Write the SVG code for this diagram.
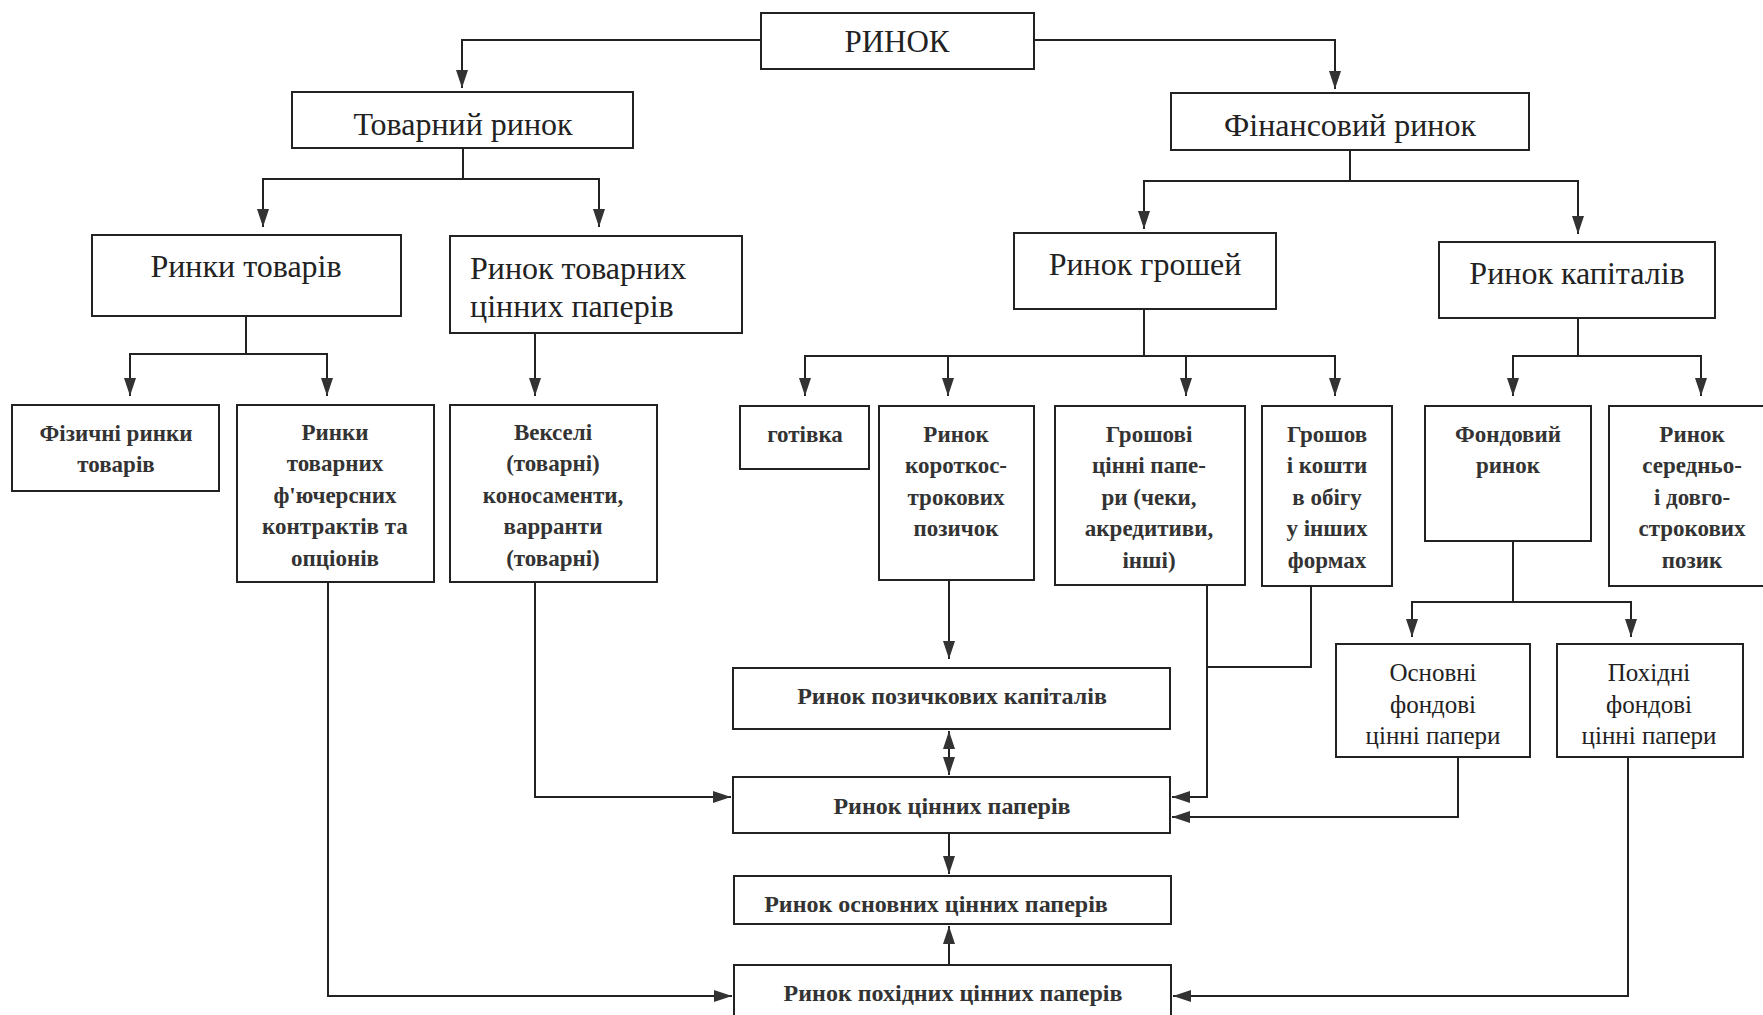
<svg xmlns="http://www.w3.org/2000/svg" width="1763" height="1015" viewBox="0 0 1763 1015">
<defs>
<style>
.box{fill:#fff;stroke:#222;stroke-width:2}
.t0{font-family:"Liberation Serif","Times New Roman",serif;font-size:31px;fill:#222;text-anchor:middle}
.t1{font-family:"Liberation Serif","Times New Roman",serif;font-size:32px;fill:#222;text-anchor:middle}
.t2{font-family:"Liberation Serif","Times New Roman",serif;font-size:23px;font-weight:bold;fill:#333;text-anchor:middle}
.t3{font-family:"Liberation Serif","Times New Roman",serif;font-size:25px;fill:#222;text-anchor:middle}
.t4{font-family:"Liberation Serif","Times New Roman",serif;font-size:24px;font-weight:bold;fill:#333;text-anchor:middle}
.ln{fill:none;stroke:#222;stroke-width:2}
</style>
<marker id="ah" markerUnits="userSpaceOnUse" markerWidth="18" markerHeight="12" refX="18" refY="6" orient="auto-start-reverse" viewBox="0 0 18 12">
<path d="M0,0 L18,6 L0,12 z" fill="#333"/>
</marker>
</defs>
<rect width="1763" height="1015" fill="#fff"/>

<g id="connectors">
<path class="ln" d="M761,40 H462 V88" marker-end="url(#ah)"/>
<path class="ln" d="M1034,40 H1335 V89" marker-end="url(#ah)"/>
<path class="ln" d="M463,148 V179 H263 V227" marker-end="url(#ah)"/>
<path class="ln" d="M463,179 H599 V227" marker-end="url(#ah)"/>
<path class="ln" d="M1350,150 V181 H1144 V229" marker-end="url(#ah)"/>
<path class="ln" d="M1350,181 H1578 V234" marker-end="url(#ah)"/>
<path class="ln" d="M246,316 V354 H130 V396" marker-end="url(#ah)"/>
<path class="ln" d="M246,354 H327 V396" marker-end="url(#ah)"/>
<path class="ln" d="M535,333 V396" marker-end="url(#ah)"/>
<path class="ln" d="M1144,309 V356 H805 V396" marker-end="url(#ah)"/>
<path class="ln" d="M948,356 V396" marker-end="url(#ah)"/>
<path class="ln" d="M1144,356 H1186 V396" marker-end="url(#ah)"/>
<path class="ln" d="M1186,356 H1335 V396" marker-end="url(#ah)"/>
<path class="ln" d="M1578,318 V356 H1513 V396" marker-end="url(#ah)"/>
<path class="ln" d="M1578,356 H1701 V396" marker-end="url(#ah)"/>
<path class="ln" d="M1513,541 V602 H1412 V637" marker-end="url(#ah)"/>
<path class="ln" d="M1513,602 H1631 V637" marker-end="url(#ah)"/>
<path class="ln" d="M949,580 V659" marker-end="url(#ah)"/>
<path class="ln" d="M949,731 V775" marker-start="url(#ah)" marker-end="url(#ah)"/>
<path class="ln" d="M949,833 V874" marker-end="url(#ah)"/>
<path class="ln" d="M949,965 V926" marker-end="url(#ah)"/>
<path class="ln" d="M535,582 V797 H731" marker-end="url(#ah)"/>
<path class="ln" d="M328,582 V996 H732" marker-end="url(#ah)"/>
<path class="ln" d="M1207,585 V797 H1172" marker-end="url(#ah)"/>
<path class="ln" d="M1311,586 V667 H1207"/>
<path class="ln" d="M1458,757 V817 H1172" marker-end="url(#ah)"/>
<path class="ln" d="M1628,757 V996 H1173" marker-end="url(#ah)"/>
</g>

<g id="n-rynok"><rect class="box" x="761" y="13" width="273" height="56"/><text class="t0" x="897" y="52">РИНОК</text></g>
<g id="n-tovarnyi"><rect class="box" x="292" y="92" width="341" height="56"/><text class="t1" x="463" y="135">Товарний ринок</text></g>
<g id="n-finansovyi"><rect class="box" x="1171" y="93" width="358" height="57"/><text class="t1" x="1350" y="136">Фінансовий ринок</text></g>
<g id="n-rynky-tovariv"><rect class="box" x="92" y="235" width="309" height="81"/><text class="t1" x="246" y="277">Ринки товарів</text></g>
<g id="n-tovarnykh-tsinnykh"><rect class="box" x="450" y="236" width="292" height="97"/><text class="t1" x="470" y="279" style="text-anchor:start">Ринок товарних</text><text class="t1" x="470" y="317" style="text-anchor:start">цінних паперів</text></g>
<g id="n-hroshei"><rect class="box" x="1014" y="233" width="262" height="76"/><text class="t1" x="1145" y="275">Ринок грошей</text></g>
<g id="n-kapitaliv"><rect class="box" x="1439" y="242" width="276" height="76"/><text class="t1" x="1577" y="284">Ринок капіталів</text></g>

<g id="n-fizychni"><rect class="box" x="12" y="405" width="207" height="86"/><text class="t2" x="116" y="441">Фізичні ринки</text><text class="t2" x="116" y="472">товарів</text></g>
<g id="n-fiuchersni"><rect class="box" x="237" y="405" width="197" height="177"/><text class="t2" x="335" y="440">Ринки</text><text class="t2" x="335" y="471">товарних</text><text class="t2" x="335" y="503">ф'ючерсних</text><text class="t2" x="335" y="534">контрактів та</text><text class="t2" x="335" y="566">опціонів</text></g>
<g id="n-vekseli"><rect class="box" x="450" y="405" width="207" height="177"/><text class="t2" x="553" y="440">Векселі</text><text class="t2" x="553" y="471">(товарні)</text><text class="t2" x="553" y="503">коносаменти,</text><text class="t2" x="553" y="534">варранти</text><text class="t2" x="553" y="566">(товарні)</text></g>
<g id="n-hotivka"><rect class="box" x="740" y="406" width="129" height="63"/><text class="t2" x="805" y="442">готівка</text></g>
<g id="n-korotkostr"><rect class="box" x="879" y="406" width="155" height="174"/><text class="t2" x="956" y="442">Ринок</text><text class="t2" x="956" y="473">короткос-</text><text class="t2" x="956" y="505">трокових</text><text class="t2" x="956" y="536">позичок</text></g>
<g id="n-hroshovi"><rect class="box" x="1055" y="406" width="190" height="179"/><text class="t2" x="1149" y="442">Грошові</text><text class="t2" x="1149" y="473">цінні папе-</text><text class="t2" x="1149" y="505">ри (чеки,</text><text class="t2" x="1149" y="536">акредитиви,</text><text class="t2" x="1149" y="568">інші)</text></g>
<g id="n-koshty"><rect class="box" x="1262" y="406" width="130" height="180"/><text class="t2" x="1327" y="442">Грошов</text><text class="t2" x="1327" y="473">і кошти</text><text class="t2" x="1327" y="505">в обігу</text><text class="t2" x="1327" y="536">у інших</text><text class="t2" x="1327" y="568">формах</text></g>
<g id="n-fondovyi"><rect class="box" x="1425" y="406" width="166" height="135"/><text class="t2" x="1508" y="442">Фондовий</text><text class="t2" x="1508" y="473">ринок</text></g>
<g id="n-serednio"><rect class="box" x="1609" y="406" width="160" height="180"/><text class="t2" x="1692" y="442">Ринок</text><text class="t2" x="1692" y="473">середньо-</text><text class="t2" x="1692" y="505">і довго-</text><text class="t2" x="1692" y="536">строкових</text><text class="t2" x="1692" y="568">позик</text></g>

<g id="n-osnovni-fond"><rect class="box" x="1336" y="644" width="194" height="113"/><text class="t3" x="1433" y="681">Основні</text><text class="t3" x="1433" y="713">фондові</text><text class="t3" x="1433" y="744">цінні папери</text></g>
<g id="n-pokhidni-fond"><rect class="box" x="1557" y="644" width="186" height="113"/><text class="t3" x="1649" y="681">Похідні</text><text class="t3" x="1649" y="713">фондові</text><text class="t3" x="1649" y="744">цінні папери</text></g>

<g id="n-pozychkovykh"><rect class="box" x="733" y="668" width="437" height="61"/><text class="t4" x="952" y="704">Ринок позичкових капіталів</text></g>
<g id="n-tsinnykh"><rect class="box" x="733" y="777" width="437" height="56"/><text class="t4" x="952" y="814">Ринок цінних паперів</text></g>
<g id="n-osnovnykh"><rect class="box" x="734" y="876" width="437" height="48"/><text class="t4" x="936" y="912">Ринок основних цінних паперів</text></g>
<g id="n-pokhidnykh"><rect class="box" x="734" y="965" width="437" height="60"/><text class="t4" x="953" y="1001">Ринок похідних цінних паперів</text></g>
</svg>
